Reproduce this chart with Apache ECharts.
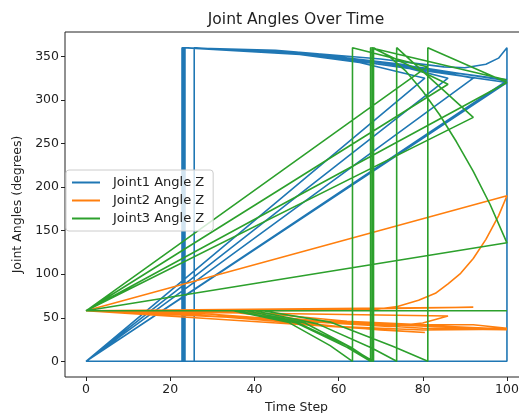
<!DOCTYPE html>
<html>
<head>
<meta charset="utf-8">
<script src="https://cdn.jsdelivr.net/npm/echarts@6/dist/echarts.min.js"></script>
<style>
  html, body { margin: 0; padding: 0; background: #fff; }
  #chart { width: 519px; height: 413px; }
</style>
</head>
<body>
<div id="chart"></div>
<script>
// each run is one episode: time step, angle (degrees)
const joint1Runs = [
  [[0, 0], [23, 0], [23, 360], [45, 357], [70, 347], [85, 338], [90, 337], [95, 341], [98, 348], [100, 360], [100, 0]],
  [[0, 0], [22.8, 0], [22.8, 360], [45, 356], [65, 343], [80.5, 325]],
  [[0, 0], [23.2, 0], [23.2, 360], [50, 354], [72, 342], [86, 325]],
  [[0, 0], [23.5, 0], [23.5, 360], [50, 355], [75, 341], [92, 325]],
  [[0, 0], [25.7, 0], [25.7, 360], [55, 352], [80, 337], [100, 322]],
  [[0, 0], [23, 0], [23, 360], [55, 351], [80, 334], [100, 320]],
  [[0, 0], [23.3, 0], [23.3, 360], [55, 353], [80, 336], [100, 323]]
]

const joint2Runs = [
  [[0, 58], [40, 58], [68, 59], [74, 63], [79, 70], [83, 78], [86, 89], [89, 101], [92, 118], [95, 140], [98, 167], [100, 190]],
  [[0, 58], [30, 52], [55, 42], [70, 36], [80.5, 33]],
  [[0, 58], [30, 54], [55, 45], [72, 40], [80, 44], [86, 52]],
  [[0, 58], [50, 59], [92, 62]],
  [[0, 58], [40, 50], [60, 40], [80, 36], [100, 37]],
  [[0, 58], [35, 56], [60, 44], [80, 38], [100, 36]],
  [[0, 58], [40, 56], [62, 46], [80, 42], [92, 42], [100, 38]]
]

const joint3Runs = [
  [[0, 58], [35, 58], [50, 45], [62, 18], [68.3, 0], [68.3, 360], [72, 350], [76, 333], [80, 310], [84, 283], [88, 252], [92, 218], [96, 180], [100, 136]],
  [[0, 58], [35, 58], [48, 45], [58, 18], [63.3, 0], [63.3, 360], [81, 338]],
  [[0, 58], [38, 58], [52, 44], [63, 16], [68, 0], [68, 360], [86, 318]],
  [[0, 58], [40, 58], [55, 43], [68, 15], [73.8, 0], [73.8, 360], [92, 280]],
  [[0, 58], [42, 58], [58, 45], [73, 17], [81.2, 0], [81.2, 360], [100, 320]],
  [[0, 58], [100, 58]],
  [[0, 58], [36, 58], [50, 44], [62, 16], [67.6, 0], [67.6, 360], [100, 323]]
]

const seriesNames = ['Joint1 Angle Z', 'Joint2 Angle Z', 'Joint3 Angle Z']
const xTicks = [0, 20, 40, 60, 80, 100]
const yTicks = [0, 50, 100, 150, 200, 250, 300, 350]

const colors = ['#1f77b4', '#ff7f0e', '#2ca02c']
const font = 'DejaVu Sans'

const flatten = runs => runs.reduce((all, run) => all.concat(run), [])

const myChart = echarts.init(document.getElementById('chart'))
myChart.setOption({
  animation: false,
  title: {
    text: 'Joint Angles Over Time',
    left: 291,
    textAlign: 'center',
    top: 7,
    textStyle: { fontFamily: font, fontSize: 15.5, fontWeight: 'normal', color: '#222' }
  },
  grid: {
    left: 65,
    right: -9,
    top: 32,
    bottom: 36,
    outerBoundsMode: 'none',
    show: true,
    borderColor: '#222',
    borderWidth: 1,
    backgroundColor: '#fff'
  },
  legend: {
    orient: 'vertical',
    left: 66,
    top: 170,
    padding: [5, 9, 5, 6],
    itemGap: 3,
    itemWidth: 28,
    itemHeight: 2,
    icon: 'rect',
    backgroundColor: 'rgba(255,255,255,0.8)',
    borderColor: '#ccc',
    borderWidth: 1,
    borderRadius: 3,
    textStyle: { fontFamily: font, fontSize: 13, color: '#222', lineHeight: 15, padding: [0, 0, 0, 8] },
    data: seriesNames
  },
  xAxis: {
    type: 'value',
    min: -5,
    max: 105,
    name: 'Time Step',
    nameLocation: 'middle',
    nameGap: 24,
    nameTextStyle: { fontFamily: font, fontSize: 12.5, color: '#222' },
    axisLine: { show: false, onZero: false },
    splitLine: { show: false },
    axisTick: { length: 4, customValues: xTicks, lineStyle: { color: '#222' } },
    axisLabel: { customValues: xTicks, margin: 6, fontFamily: font, fontSize: 12.5, color: '#222' }
  },
  yAxis: {
    type: 'value',
    min: -18,
    max: 378,
    name: 'Joint Angles (degrees)',
    nameLocation: 'middle',
    nameGap: 37,
    nameTextStyle: { fontFamily: font, fontSize: 12.5, color: '#222' },
    axisLine: { show: false, onZero: false },
    splitLine: { show: false },
    axisTick: { length: 4, customValues: yTicks, lineStyle: { color: '#222' } },
    axisLabel: { customValues: yTicks, margin: 6, fontFamily: font, fontSize: 12.5, color: '#222' }
  },
  series: [joint1Runs, joint2Runs, joint3Runs].map((runs, i) => ({
    name: seriesNames[i],
    type: 'line',
    symbol: 'none',
    color: colors[i],
    lineStyle: { width: 1.6, color: colors[i] },
    emphasis: { disabled: true },
    data: flatten(runs)
  }))
})
</script>
</body>
</html>
